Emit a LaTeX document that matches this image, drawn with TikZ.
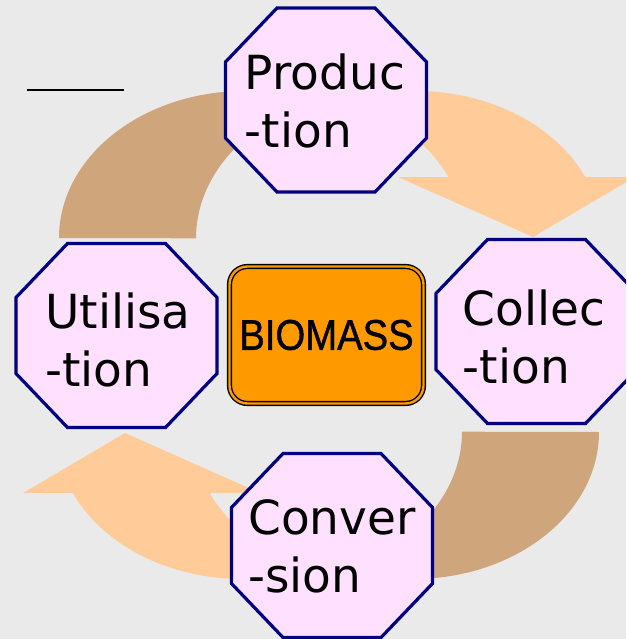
\documentclass[tikz,border=0pt]{standalone}
\usepackage{fontspec}
\usepackage{tikz}
\newfontfamily\stagefont{DejaVu Sans}
\newfontfamily\biofont[FakeStretch=0.89,FakeBold=1]{Liberation Sans}
\definecolor{bgrey}{RGB}{234,234,234}
\definecolor{tanarr}{RGB}{207,165,124}
\definecolor{peacharr}{RGB}{255,204,153}
\definecolor{spink}{RGB}{255,224,255}
\definecolor{snavy}{RGB}{0,0,128}
\definecolor{borange}{RGB}{255,153,0}
% octagon behind a stage, centred at (#1,#2)
\newcommand{\stageoct}[2]{\filldraw[stageline,shift={(#1,#2)}] (-49,-92) -- (49,-92) -- (100.5,-38) -- (100.5,38) -- (49,92) -- (-49,92) -- (-100.5,38) -- (-100.5,-38) -- cycle;}

\begin{document}
\begin{tikzpicture}[x=1pt,y=-1pt,
  stageline/.style={fill=spink,draw=snavy,line width=3.2pt,line join=miter},
  stage/.style={align=left,inner sep=0pt,font=\stagefont\fontsize{47}{58}\selectfont},
  core/.style={rectangle,rounded corners=18pt,fill=borange,draw=black,line width=1.4pt,double=borange,double distance=2.4pt,minimum width=194pt,minimum height=137pt,inner sep=0pt,font=\biofont\fontsize{43}{50}\selectfont},
  tanband/.style={fill=tanarr},
  peachband/.style={fill=peacharr}]
  \clip (0,0) rectangle (626,639);
  \fill[bgrey] (0,0) rectangle (626,639);
  % curved arrows
  \fill[tanband] (59,238) arc[start angle=180,end angle=270,x radius=186,y radius=147]
    -- (289,111) arc[start angle=240,end angle=180,x radius=186,y radius=147] -- cycle;
  \fill[peachband] (416,91) arc[start angle=270,end angle=335.5,x radius=186,y radius=147]
    -- (635,177) -- (533,237) -- (398,177) -- (448.3,177)
    arc[start angle=335.5,end angle=300,x radius=186,y radius=147] -- cycle;
  \fill[tanband] (599,432) arc[start angle=0,end angle=90,x radius=186,y radius=147]
    -- (369,559) arc[start angle=60,end angle=0,x radius=186,y radius=147] -- cycle;
  \fill[peachband] (242,579) arc[start angle=90,end angle=155.5,x radius=186,y radius=147]
    -- (23,493) -- (125,433) -- (260,493) -- (209.7,493)
    arc[start angle=155.5,end angle=120,x radius=186,y radius=147] -- cycle;
  % stages
  \stageoct{326}{100}
  \stageoct{536.5}{331.5}
  \stageoct{332}{545.5}
  \stageoct{116.5}{335.5}
  \node[stage] (prod) at (325,101) {Produc\\-tion};
  \node[stage] (coll) at (534,337) {Collec\\-tion};
  \node[stage] (conv) at (332,546) {Conver\\-sion};
  \node[stage] (util) at (118,340) {Utilisa\\-tion};
  \node[core] (bio) at (326.5,335) {BIOMASS};
  \draw[line width=1.5pt] (27,90) -- (124,90);
\end{tikzpicture}
\end{document}
